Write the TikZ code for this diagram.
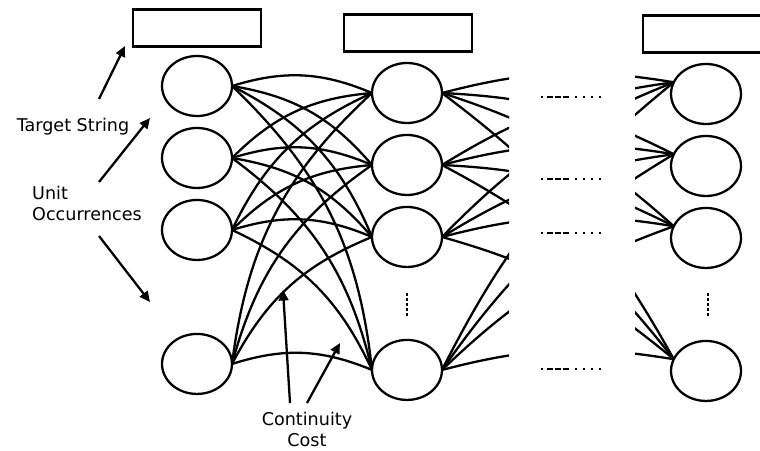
\documentclass[tikz,border=0pt]{standalone}
\usepackage{fontspec}
\setmainfont{DejaVu Sans}
\usetikzlibrary{arrows.meta, positioning, shapes.geometric}

\begin{document}
\begin{tikzpicture}[
    x=0.02cm, y=0.02cm,
    every node/.style={font=\fontsize{10}{12}\selectfont},
    unit/.style={draw, ellipse, line width=1.3pt, minimum width=1.4cm, minimum height=1.2cm, inner sep=0pt, outer sep=0pt},
    target/.style={draw, rectangle, line width=1.3pt, minimum width=2.56cm, minimum height=0.74cm, inner sep=0pt},
    link/.style={line width=1.3pt},
    gap/.style={line width=1.1pt, dash pattern=on 0.04cm off 0.08cm on 0.12cm off 0.04cm on 0.12cm off 0.04cm on 0.12cm off 0.12cm on 0.04cm off 0.12cm on 0.04cm off 0.12cm on 0.04cm off 0.12cm on 0.04cm off 1cm},
    vgap/.style={line width=1.4pt, dash pattern=on 0.06cm off 0.04cm},
    arrow/.style={-{Triangle[length=6pt,width=5.5pt]}, line width=1.3pt}
]
\clip (0,0) rectangle (760,450);

% target string boxes
\node[target] (t1) at (197,422) {};
\node[target] (t2) at (408,417) {};
\node[target] (t3) at (707,416) {};

% first column of unit occurrences
\node[unit] (c11) at (197,364) {};
\node[unit, below=0.24cm of c11] (c12) {};
\node[unit, below=0.24cm of c12] (c13) {};
\node[unit, below=1.48cm of c13] (c14) {};

% second column
\node[unit] (c21) at (407,357) {};
\node[unit, below=0.24cm of c21] (c22) {};
\node[unit, below=0.24cm of c22] (c23) {};
\node[unit, below=1.46cm of c23] (c24) {};

% last column
\node[unit] (c31) at (706,356) {};
\node[unit, below=0.24cm of c31] (c32) {};
\node[unit, below=0.24cm of c32] (c33) {};
\node[unit, below=1.46cm of c33] (c34) {};

% labels
\node (ts) at (73,323) {Target String};
\node[align=left, anchor=west] (uo) at (26,247) {Unit\\Occurrences};
\node[align=center] (cc) at (307,21) {Continuity\\Cost};

% continuity links between first and second column
\foreach \i in {1,...,4}
  \foreach \j in {1,...,4}
    \draw[link] (c1\i.east) to[bend left=20] (c2\j.west);

% links into the gap
\begin{scope}
  \clip (400,0) rectangle (509,450);
  \foreach \i in {1,...,4}
    \foreach \j in {1,...,4}
      \draw[link] (c2\i.east) to[bend left=12] (c3\j.160);
\end{scope}
\begin{scope}
  \clip (635,0) rectangle (720,450);
  \foreach \i in {1,...,4}
    \foreach \j in {1,...,4}
      \draw[link] (c2\i.east) to[bend left=12] (c3\j.160);
\end{scope}

% elided columns
\foreach \y in {353,271,217,81}
  \draw[gap] (541,\y) -- (601,\y);
\draw[vgap] (407,157) -- (407,133);
\draw[vgap] (708,157) -- (708,133);

% pointer arrows
\coordinate (ts tail) at (99,351);
\coordinate (ts tip) at (125,404);
\coordinate (uo tail1) at (99,268);
\coordinate (uo tip1) at (150,332);
\coordinate (uo tail2) at (99,214);
\coordinate (uo tip2) at (150,148);
\coordinate (cc tail1) at (290,47);
\coordinate (cc tip1) at (283,160);
\coordinate (cc tail2) at (307,47);
\coordinate (cc tip2) at (340,107);
\draw[arrow] (ts tail) -- (ts tip);
\draw[arrow] (uo tail1) -- (uo tip1);
\draw[arrow] (uo tail2) -- (uo tip2);
\draw[arrow] (cc tail1) -- (cc tip1);
\draw[arrow] (cc tail2) -- (cc tip2);

\end{tikzpicture}
\end{document}
